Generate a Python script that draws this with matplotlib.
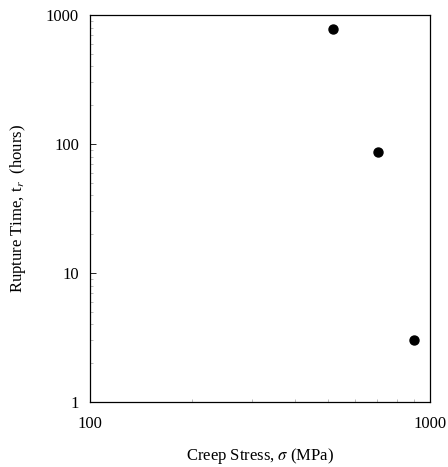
import matplotlib.pyplot as plt
from matplotlib.ticker import FixedLocator, FixedFormatter, LogLocator, NullFormatter

# creep rupture data
stress = [517, 705, 900]      # MPa
rupture = [780, 86, 3.0]      # hours

plt.rcParams['font.family'] = ['Liberation Serif', 'DejaVu Serif']
plt.rcParams['mathtext.fontset'] = 'stix'

fig = plt.figure(figsize=(4.48, 4.67), dpi=100)
ax = fig.add_axes([90 / 448, 65 / 467, 340 / 448, 387 / 467])

ax.scatter(stress, rupture, s=42, color='black', zorder=3)

ax.set_xscale('log')
ax.set_yscale('log')
ax.set_xlim(100, 1000)
ax.set_ylim(1, 1000)

ax.xaxis.set_major_locator(FixedLocator([100, 1000]))
ax.xaxis.set_major_formatter(FixedFormatter(['100', '1000']))
ax.yaxis.set_major_locator(FixedLocator([1, 10, 100, 1000]))
ax.yaxis.set_major_formatter(FixedFormatter(['1', '10', '100', '1000']))
ax.xaxis.set_minor_locator(LogLocator(base=10, subs=(2, 3, 4, 5, 6, 7, 8, 9)))
ax.yaxis.set_minor_locator(LogLocator(base=10, subs=(2, 3, 4, 5, 6, 7, 8, 9)))
ax.xaxis.set_minor_formatter(NullFormatter())
ax.yaxis.set_minor_formatter(NullFormatter())

ax.tick_params(which='major', direction='in', length=4, width=0.6, labelsize=12, pad=8)
ax.tick_params(which='minor', direction='in', length=2, width=0.4, color='#888888')
ax.tick_params(axis='x', which='major', pad=10)

for sp in ax.spines.values():
    sp.set_linewidth(0.9)

ax.set_xlabel(r'Creep Stress, $\sigma$ (MPa)', fontsize=12, labelpad=10)
ax.set_ylabel(r'Rupture Time, t$_r$  (hours)', fontsize=12, labelpad=13)

fig.savefig('out.png', dpi=100)
